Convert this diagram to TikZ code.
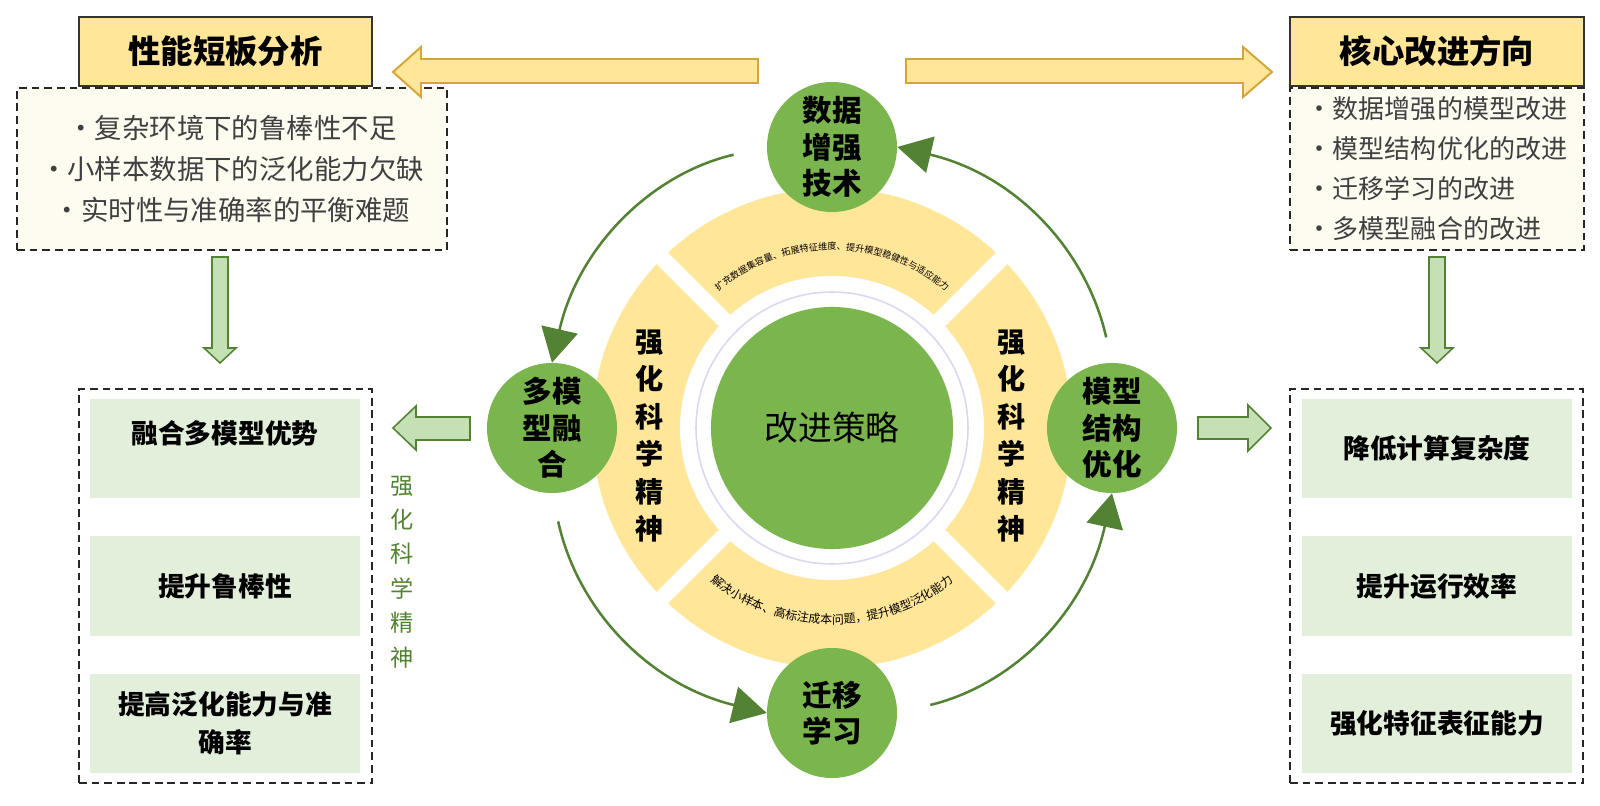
\documentclass[tikz,border=0pt]{standalone}
\usepackage{fontspec}
\setmainfont{Noto Sans CJK SC}
\usepackage{xcolor}
\usetikzlibrary{arrows.meta,decorations.text}
\definecolor{leaf-green}{HTML}{7AB54E}
\definecolor{deep-green}{HTML}{548235}
\definecolor{pale-green}{HTML}{E2EFDA}
\definecolor{arrow-green}{HTML}{C5E0B4}
\definecolor{sand}{HTML}{FFE699}
\definecolor{gold-line}{HTML}{D6A53A}
\definecolor{cream}{HTML}{FEFBF0}
\definecolor{lavender}{HTML}{D8D8F4}

\tikzset{
  title box/.style={draw=black!80, line width=1.1pt, fill=sand, minimum width=7.33cm,
    minimum height=1.72cm, font=\fontsize{23}{28}\selectfont\bfseries},
  note box/.style={draw=black!85, dash pattern=on 5.5pt off 3.5pt, line width=1.1pt,
    fill=cream, text=black!75, minimum height=4.05cm},
  frame box/.style={draw=black!85, dash pattern=on 5.5pt off 3.5pt, line width=1.1pt,
    minimum width=7.33cm, minimum height=9.85cm},
  goal box/.style={fill=pale-green, minimum width=6.75cm, minimum height=2.475cm,
    align=center, font=\fontsize{19}{27}\selectfont\bfseries},
  goal text/.style={font=\fontsize{19}{27}\selectfont\bfseries},
  strategy/.style={circle, fill=leaf-green, minimum size=3.25cm, inner sep=0pt,
    align=center, font=\fontsize{21}{26}\selectfont\bfseries},
  spirit/.style={align=center, font=\fontsize{20}{26.7}\selectfont\bfseries},
  fat arrow/.style={draw=deep-green, fill=arrow-green, line width=1.1pt},
  gold arrow/.style={draw=gold-line, fill=sand, line width=1.4pt},
  cycle arrow/.style={draw=deep-green, line width=1.8pt,
    -{Triangle[width=0.92cm,length=0.85cm]}},
}

\begin{document}
\begin{tikzpicture}[x=0.025cm, y=-0.025cm]
  \useasboundingbox (0,0) rectangle (1600,806);

  % ring around the strategy
  \coordinate (hub) at (832,428);
  \fill[sand] (hub) circle[radius=240];
  \fill[white] (hub) circle[radius=152];
  \foreach \a in {45,135,225,315}
    \draw[white, line width=0.4cm] ([shift={(\a:148)}]hub) -- ([shift={(\a:250)}]hub);
  \draw[lavender, line width=1.1pt] (hub) circle[radius=136];
  \node[strategy, minimum size=6.05cm, font=\fontsize{24}{28}\selectfont]
    (core) at (hub) {改进策略};

  \path[decorate, decoration={text along path, text align=center,
      text={|\fontsize{6.5}{7}\selectfont|扩充数据集容量、拓展特征维度、提升模型稳健性与适应能力}}]
    ([shift={(-140:178)}]hub) arc[start angle=-140, end angle=-40, radius=178];
  \path[decorate, decoration={text along path, text align=center,
      text={|\fontsize{8.5}{9}\selectfont|解决小样本、高标注成本问题，提升模型泛化能力}}]
    ([shift={(140:196)}]hub) arc[start angle=140, end angle=40, radius=196];

  \node[spirit] (spiritL) at (650,436) {强\\化\\科\\学\\精\\神};
  \node[spirit] (spiritR) at (1012,436) {强\\化\\科\\学\\精\\神};

  % the four methods
  \node[strategy] (data) at (832,147) {数据\\增强\\技术};
  \node[strategy] (fusion) at (552,428) {多模\\型融\\合};
  \node[strategy] (structure) at (1112,428) {模型\\结构\\优化};
  \node[strategy] (transfer) at (832,713) {迁移\\学习};

  \draw[cycle arrow, shorten <=0.85cm] (data.west) to[bend right=32] (fusion.north);
  \draw[cycle arrow, shorten <=0.72cm] (fusion.south) to[bend right=32] (transfer.west);
  \draw[cycle arrow, shorten <=0.85cm] (transfer.east) to[bend right=32] (structure.south);
  \draw[cycle arrow, shorten <=0.65cm] (structure.north) to[bend right=32] (data.east);

  % top boxes
  \node[note box, minimum width=10.75cm, align=center,
    font=\fontsize{19.5}{29}\selectfont] (weak) at (232,169)
    {·复杂环境下的鲁棒性不足\\·小样本数据下的泛化能力欠缺\\·实时性与准确率的平衡难题};
  \node[title box] (weakTitle) at (225.5,51.5) {性能短板分析};
  \node[note box, minimum width=7.35cm, align=left,
    font=\fontsize{18.5}{28.5}\selectfont] (direction) at (1437,169)
    {·数据增强的模型改进\\·模型结构优化的改进\\·迁移学习的改进\\·多模型融合的改进};
  \node[title box, minimum width=7.35cm] (directionTitle) at (1437,51.5) {核心改进方向};

  % bottom boxes
  \node[frame box] (gainL) at (225.5,586) {};
  \node[goal box] (merge) at (225,448.5) {};
  \node[goal text] (mergeText) at (225,433) {融合多模型优势};
  \node[goal box] (robust) at (225,586) {提升鲁棒性};
  \node[goal box] (general) at (225,723.5) {提高泛化能力与准\\确率};

  \node[frame box] (gainR) at (1436.5,586) {};
  \node[goal box] (cost) at (1437,448.5) {降低计算复杂度};
  \node[goal box] (speed) at (1437,586) {提升运行效率};
  \node[goal box] (feature) at (1437,723.5) {强化特征表征能力};

  \node[align=center, text=deep-green, font=\fontsize{16.5}{24.5}\selectfont]
    (spiritM) at (402,572) {强\\化\\科\\学\\精\\神};

  % block arrows
  \draw[gold arrow] (758,59) -- (421,59) -- (421,47) -- (393,72) -- (421,97)
    -- (421,83) -- (758,83) -- cycle;
  \draw[gold arrow] (906,59) -- (1243,59) -- (1243,47) -- (1272,72) -- (1243,97)
    -- (1243,83) -- (906,83) -- cycle;
  \draw[fat arrow] (212,257) -- (212,348) -- (204,348) -- (220,363) -- (236,348)
    -- (228,348) -- (228,257) -- cycle;
  \draw[fat arrow] (1429,257) -- (1429,348) -- (1421,348) -- (1437,363) -- (1453,348)
    -- (1445,348) -- (1445,257) -- cycle;
  \draw[fat arrow] (470,417) -- (416,417) -- (416,406) -- (393,428) -- (416,450)
    -- (416,440) -- (470,440) -- cycle;
  \draw[fat arrow] (1198,417) -- (1248,417) -- (1248,405) -- (1271,428) -- (1248,451)
    -- (1248,439) -- (1198,439) -- cycle;
\end{tikzpicture}
\end{document}
